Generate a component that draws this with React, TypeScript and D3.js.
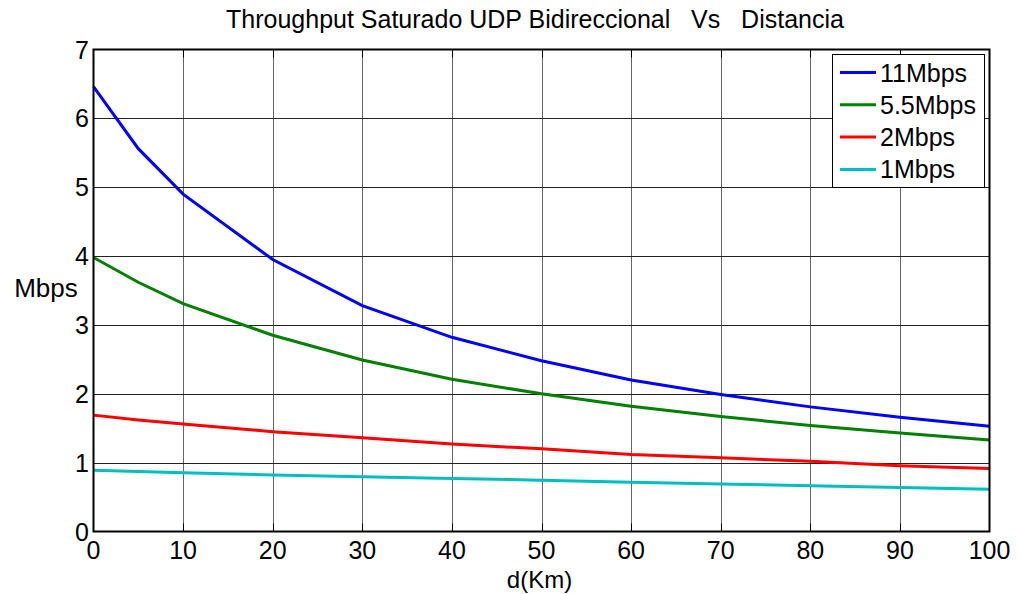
import React, { useEffect, useRef } from 'react';
import * as d3 from 'd3';

const distances = [0, 5, 10, 20, 30, 40, 50, 60, 70, 80, 90, 100];
const series11 = [6.46, 5.56, 4.9, 3.95, 3.28, 2.82, 2.48, 2.2, 1.99, 1.81, 1.66, 1.53];
const series55 = [3.98, 3.62, 3.31, 2.85, 2.49, 2.21, 2.0, 1.82, 1.67, 1.54, 1.43, 1.33];
const series2 = [1.69, 1.62, 1.56, 1.45, 1.36, 1.27, 1.2, 1.12, 1.07, 1.02, 0.955, 0.915];
const series1 = [0.89, 0.87, 0.855, 0.82, 0.795, 0.77, 0.745, 0.715, 0.69, 0.665, 0.64, 0.615];
const seriesNames = ['11Mbps', '5.5Mbps', '2Mbps', '1Mbps'];
const seriesColors = ['#0000ff', '#008000', '#ff0000', '#00bfbf'];
const xTicks = [0, 10, 20, 30, 40, 50, 60, 70, 80, 90, 100];
const yTicks = [0, 1, 2, 3, 4, 5, 6, 7];

const W = 1020;
const H = 594;
const M = { left: 93.5, right: 989.5, top: 49.5, bottom: 531.5 };
const FONT = 'Liberation Sans, Arial, sans-serif';

export default function App() {
  const ref = useRef<SVGSVGElement>(null);

  useEffect(() => {
    const svg = d3.select(ref.current);
    svg.selectAll('*').remove();

    const x = d3.scaleLinear().domain([0, 100]).range([M.left, M.right]);
    const y = d3.scaleLinear().domain([0, 7]).range([M.bottom, M.top]);

    svg.append('rect').attr('width', W).attr('height', H).attr('fill', '#fff');

    // grid
    const grid = svg.append('g');
    grid
      .selectAll('line.v')
      .data(xTicks.slice(1, -1))
      .join('line')
      .attr('x1', d => Math.round(x(d)) + 0.5)
      .attr('x2', d => Math.round(x(d)) + 0.5)
      .attr('y1', M.top)
      .attr('y2', M.bottom)
      .attr('stroke', '#666')
      .attr('stroke-width', 1);
    grid
      .selectAll('line.h')
      .data(yTicks.slice(1, -1))
      .join('line')
      .attr('x1', M.left)
      .attr('x2', M.right)
      .attr('y1', d => Math.round(y(d)) + 0.5)
      .attr('y2', d => Math.round(y(d)) + 0.5)
      .attr('stroke', '#222')
      .attr('stroke-width', 1);

    // inward tick marks on the vertical grid positions
    const ticks = svg.append('g').attr('stroke', '#000').attr('stroke-width', 1);
    xTicks.slice(1, -1).forEach(d => {
      const px = Math.round(x(d)) + 0.5;
      ticks.append('line').attr('x1', px).attr('x2', px).attr('y1', M.top).attr('y2', M.top + 8);
      ticks.append('line').attr('x1', px).attr('x2', px).attr('y1', M.bottom - 8).attr('y2', M.bottom);
    });

    // lines
    const all = [series11, series55, series2, series1];
    const line = d3
      .line<number>()
      .x((_, i) => x(distances[i]))
      .y(d => y(d));
    all.forEach((s, i) => {
      svg
        .append('path')
        .attr('d', line(s))
        .attr('fill', 'none')
        .attr('stroke', seriesColors[i])
        .attr('stroke-width', 3);
    });

    // frame
    svg
      .append('rect')
      .attr('x', M.left)
      .attr('y', M.top)
      .attr('width', M.right - M.left)
      .attr('height', M.bottom - M.top)
      .attr('fill', 'none')
      .attr('stroke', '#000')
      .attr('stroke-width', 2);

    // tick labels
    svg
      .append('g')
      .selectAll('text')
      .data(xTicks)
      .join('text')
      .attr('x', d => x(d))
      .attr('y', 559)
      .attr('text-anchor', 'middle')
      .attr('font-family', FONT)
      .attr('font-size', 25)
      .text(d => d);
    svg
      .append('g')
      .selectAll('text')
      .data(yTicks)
      .join('text')
      .attr('x', 89)
      .attr('y', d => y(d) + 9)
      .attr('text-anchor', 'end')
      .attr('font-family', FONT)
      .attr('font-size', 25)
      .text(d => d);

    // axis labels and title
    svg
      .append('text')
      .attr('x', (M.left + M.right) / 2 - 2)
      .attr('y', 588)
      .attr('text-anchor', 'middle')
      .attr('font-family', FONT)
      .attr('font-size', 24)
      .text('d(Km)');
    svg
      .append('text')
      .attr('x', 46)
      .attr('y', 297)
      .attr('text-anchor', 'middle')
      .attr('font-family', FONT)
      .attr('font-size', 26)
      .text('Mbps');
    svg
      .append('text')
      .attr('x', 535)
      .attr('y', 28)
      .attr('text-anchor', 'middle')
      .attr('font-family', FONT)
      .attr('font-size', 25)
      .attr('xml:space', 'preserve')
      .style('white-space', 'pre')
      .text('Throughput Saturado UDP Bidireccional   Vs   Distancia');

    // legend
    const lg = svg.append('g');
    lg.append('rect')
      .attr('x', 832.5)
      .attr('y', 54.5)
      .attr('width', 152)
      .attr('height', 133)
      .attr('fill', '#fff')
      .attr('stroke', '#000')
      .attr('stroke-width', 1);
    seriesNames.forEach((n, i) => {
      const ly = 72.5 + i * 32.3;
      lg.append('line')
        .attr('x1', 840)
        .attr('x2', 876)
        .attr('y1', ly)
        .attr('y2', ly)
        .attr('stroke', seriesColors[i])
        .attr('stroke-width', 3);
      lg.append('text')
        .attr('x', 880)
        .attr('y', ly + 9)
        .attr('font-family', FONT)
        .attr('font-size', 25)
        .text(n);
    });
  }, []);

  return <svg ref={ref} width={W} height={H} style={{ position: 'absolute', left: 0, top: 0 }} />;
}
